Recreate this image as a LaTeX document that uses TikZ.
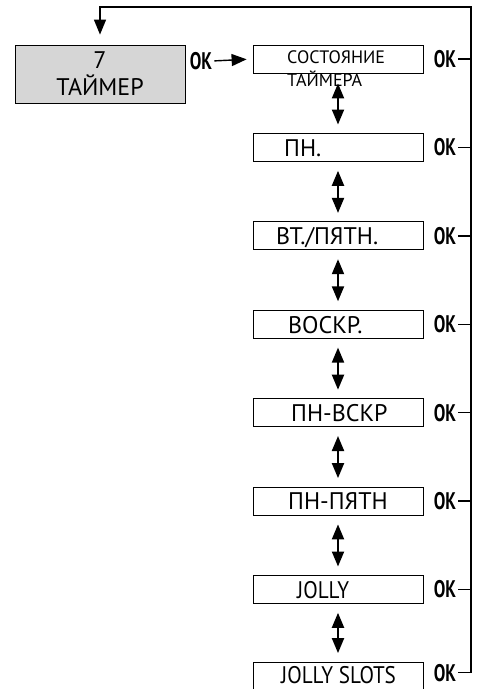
\documentclass[tikz,border=0pt]{standalone}
\usepackage{fontspec}
\setmainfont{PT Sans}
\newfontfamily\okfont[FakeStretch=0.72]{PT Sans}
\newfontfamily\condfont[FakeStretch=0.88]{PT Sans}
\usetikzlibrary{arrows.meta}
\begin{document}
\begin{tikzpicture}[x=1pt,y=-1pt,
  box/.style={draw, line width=0.8pt, minimum width=170pt, minimum height=28pt, inner sep=0pt},
  graybox/.style={box, fill=black!16, minimum height=58pt, align=center,
    font=\fontsize{24}{27}\selectfont},
  lbl/.style={anchor=base west, inner sep=0pt, font=\fontsize{24}{28}\selectfont},
  cond/.style={anchor=base west, inner sep=0pt, font=\condfont\fontsize{24}{28}\selectfont},
  small/.style={anchor=base west, inner sep=0pt, align=left, font=\fontsize{18}{23}\selectfont},
  ok/.style={inner sep=0pt, font=\okfont\bfseries\fontsize{24}{27}\selectfont},
  conn/.style={line width=1.4pt},
  tip/.tip={Triangle[length=15pt,width=12pt]},
  dbl/.style={conn, line width=2pt, tip-tip, shorten <=9pt, shorten >=8.5pt}
]
\useasboundingbox (0,0) rectangle (481,689);

% left gray box
\node[graybox] (g) at (100,74) {7\\ТАЙМЕР};
\node[ok] (ok0) at (201,61) {OK};

% right boxes
\foreach \i/\yy in {1/59,2/147.4,3/235.8,4/324.2,5/412.6,6/501,7/589.4}{
  \node[box] (b\i) at (338,\yy) {};
  \node[ok] (ok\i) at (445,\yy) {OK};
}
\node[box] (b8) at (338,676) {};
\node[ok, anchor=base] (ok8) at (445,681) {OK};
\coordinate (tr) at (471,7);

% labels
\node[small] (l1) at (287,86) {СОСТОЯНИЕ\\ТАЙМЕРА};
\node[lbl] (l2) at (284,156) {ПН.};
\node[lbl] (l3) at (276,244.5) {ВТ./ПЯТН.};
\node[lbl] (l4) at (288,333) {ВОСКР.};
\node[lbl] (l5) at (291,421) {ПН-ВСКР};
\node[lbl] (l6) at (288,509.5) {ПН-ПЯТН};
\node[cond] (l7) at (297,598) {JOLLY};
\node[cond] (l8) at (281,683) {JOLLY SLOTS};

% OK arrow
\draw[conn,-tip, shorten <=2pt, shorten >=6pt] (ok0.east) -- (b1.west);

% double arrows
\draw[dbl, shorten <=10pt] (b1.south) -- (b2.north);
\foreach \a/\b in {2/3,3/4,4/5,5/6,6/7,7/8}{
  \draw[dbl] (b\a.south) -- (b\b.north);
}

% ticks
\foreach \i in {1,...,7}{
  \draw[conn, shorten <=2pt] (ok\i.east) -- (ok\i.east -| tr);
}
% return loop
\draw[conn,-tip, shorten <=2pt, shorten >=10pt] (ok8.east) -- (ok8.east -| tr) -- (tr) -| (g.north);
\end{tikzpicture}
\end{document}
